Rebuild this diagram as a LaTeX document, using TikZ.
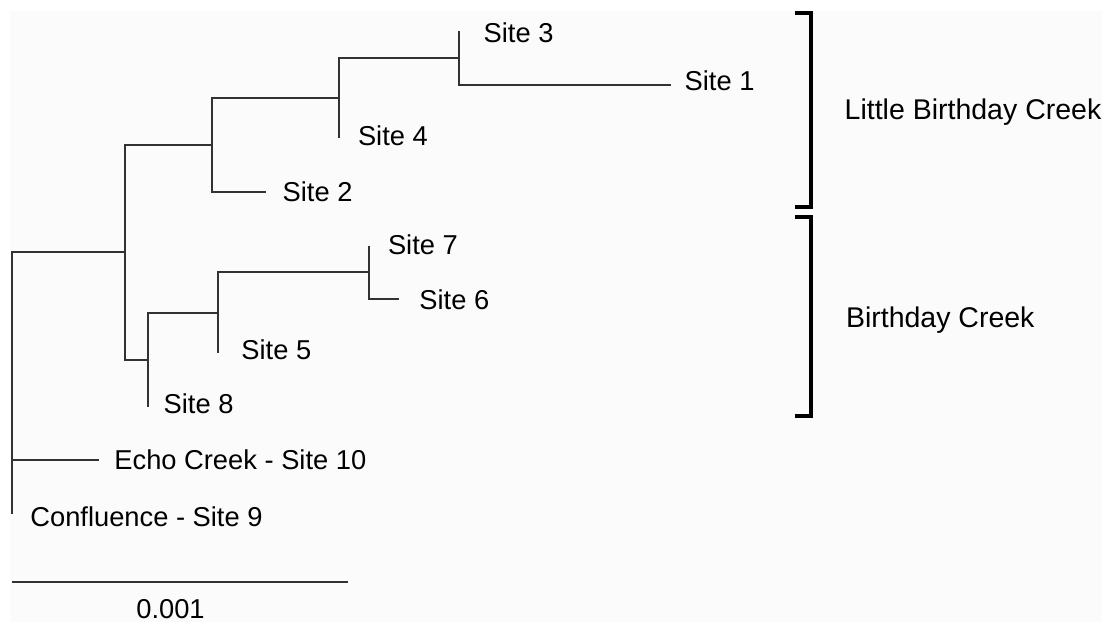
\documentclass[tikz,border=0pt]{standalone}
\usepackage{fontspec}
\setmainfont{Liberation Sans}
\definecolor{bgcol}{RGB}{251,251,251}
\definecolor{treecol}{RGB}{50,50,50}
\begin{document}
\begin{tikzpicture}[x=1pt,y=-1pt,
  branch/.style={draw=treecol,line width=2.2pt},
  bracketline/.style={draw=black,line width=4pt,line join=miter},
  sitelbl/.style={anchor=base west,inner sep=0pt,font=\fontsize{27.3}{31}\selectfont},
  grouplbl/.style={anchor=base west,inner sep=0pt,font=\fontsize{28.5}{33}\selectfont},
  scalelbl/.style={anchor=base,inner sep=0pt,font=\fontsize{27.3}{31}\selectfont}]
\useasboundingbox (0,0) rectangle (1107,622);
\fill[white] (0,0) rectangle (1107,622);
\fill[bgcol] (10,11) rectangle (1102,622);
% internal nodes
\coordinate (nR) at (11.7,460);
\coordinate (nA) at (124.7,252.3);
\coordinate (nB) at (211.7,145);
\coordinate (nC) at (339,98);
\coordinate (nD) at (459.3,58);
\coordinate (nE) at (147.7,360);
\coordinate (nF) at (218.3,312.7);
\coordinate (nG) at (369,271.7);
% leaf tips
\coordinate (l3) at (459.3,30.7);
\coordinate (l1) at (670.7,84.7);
\coordinate (l4) at (339,138.3);
\coordinate (l2) at (266,192.3);
\coordinate (l7) at (369,245.7);
\coordinate (l6) at (399.3,299.3);
\coordinate (l5) at (218.3,353.3);
\coordinate (l8) at (147.7,407.3);
\coordinate (l10) at (98.7,460);
\coordinate (l9) at (11.7,514);
% branches
\draw[branch] (nR) |- (nA);
\draw[branch] (nR) |- (l10);
\draw[branch] (nR) |- (l9);
\draw[branch] (nA) |- (nB);
\draw[branch] (nA) |- (nE);
\draw[branch] (nB) |- (nC);
\draw[branch] (nB) |- (l2);
\draw[branch] (nC) |- (nD);
\draw[branch] (nC) |- (l4);
\draw[branch] (nD) |- (l3);
\draw[branch] (nD) |- (l1);
\draw[branch] (nE) |- (nF);
\draw[branch] (nE) |- (l8);
\draw[branch] (nF) |- (nG);
\draw[branch] (nF) |- (l5);
\draw[branch] (nG) |- (l7);
\draw[branch] (nG) |- (l6);
% labels
\node[sitelbl] (s3) at (483.5,42.7) {Site 3};
\node[sitelbl] (s1) at (684.5,90.7) {Site 1};
\node[sitelbl] (s4) at (357.8,145) {Site 4};
\node[sitelbl] (s2) at (282.5,201.7) {Site 2};
\node[sitelbl] (s7) at (387.8,254) {Site 7};
\node[sitelbl] (s6) at (419.2,309) {Site 6};
\node[sitelbl] (s5) at (241.2,359) {Site 5};
\node[sitelbl] (s8) at (163.5,413.3) {Site 8};
\node[sitelbl] (s10) at (114.2,469) {Echo Creek - Site 10};
\node[sitelbl] (s9) at (30.2,526.7) {Confluence - Site 9};
% brackets
\coordinate (b1t) at (795.3,13.3);
\coordinate (b1b) at (795.3,206.7);
\coordinate (b2t) at (795.3,217.3);
\coordinate (b2b) at (795.3,415.7);
\draw[bracketline] (b1t) -- ++(15.4,0) |- (b1b);
\draw[bracketline] (b2t) -- ++(15.4,0) |- (b2b);
\node[grouplbl] (g1) at (844.5,119.3) {Little Birthday Creek};
\node[grouplbl] (g2) at (845.8,327.3) {Birthday Creek};
% scale bar
\coordinate (sb0) at (12,581.7);
\coordinate (sb1) at (347.7,581.7);
\draw[branch] (sb0) -- (sb1);
\node[scalelbl] (sbl) at (170.5,618.3) {0.001};
\end{tikzpicture}
\end{document}
